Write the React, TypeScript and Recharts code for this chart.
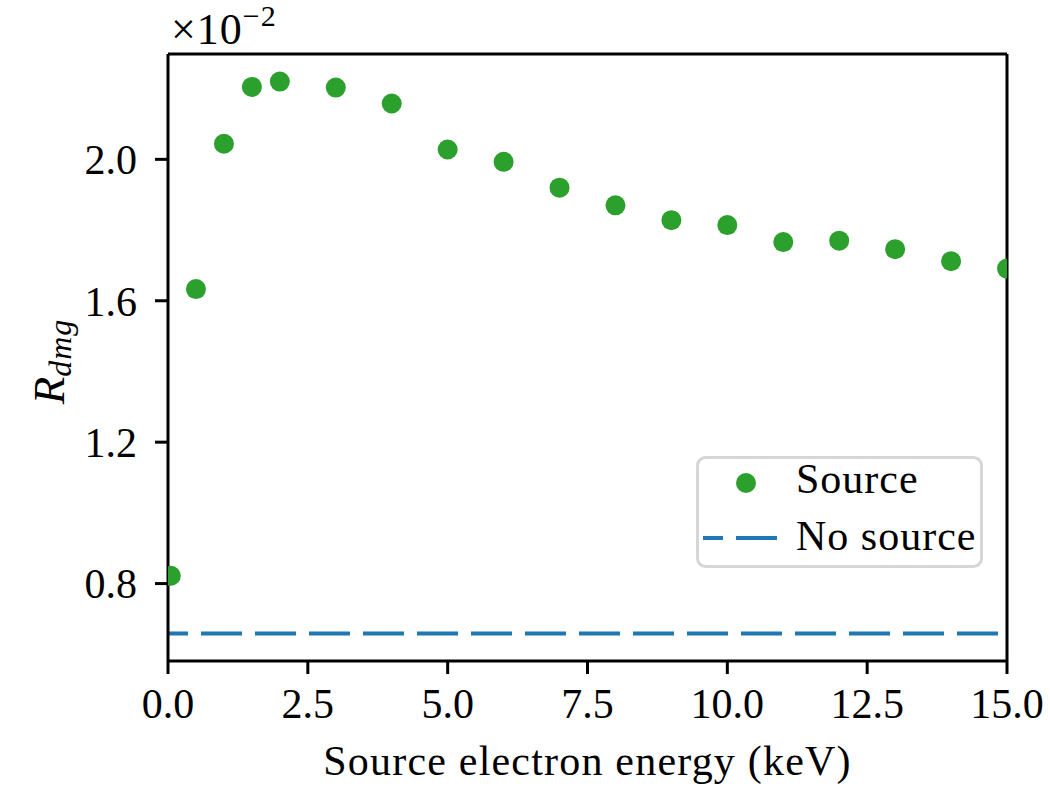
import { ComposedChart, Scatter, Line, XAxis, YAxis, Legend, ReferenceLine } from "recharts";

const energies = [0.05, 0.5, 1, 1.5, 2, 3, 4, 5, 6, 7, 8, 9, 10, 11, 12, 13, 14, 15];
const rdmgSource = [
  0.822, 1.633, 2.044, 2.205, 2.22, 2.203, 2.158, 2.028, 1.993, 1.92, 1.87, 1.828, 1.814,
  1.766, 1.77, 1.746, 1.712, 1.691
];
const noSourceX = [0, 15];
const noSourceY = [0.659, 0.659];
const xTicks = [0, 2.5, 5, 7.5, 10, 12.5, 15];
const yTicks = [0.8, 1.2, 1.6, 2.0];
const xDomain = [0, 15];
const yDomain = [0.581, 2.298];

const FONT = "'Liberation Serif', 'DejaVu Serif', serif";
const GREEN = "#2ca02c";
const BLUE = "#1f77b4";

const sourcePoints = energies.map((x, i) => ({ x, y: rdmgSource[i] }));
const noSourcePoints = noSourceX.map((x, i) => ({ x, y: noSourceY[i] }));

function LegendBox() {
  return (
    <svg width={287} height={112} style={{ display: "block" }}>
      <rect x={1.5} y={1.5} width={284} height={109} rx={8} fill="rgba(255,255,255,0.8)" stroke="#d6d6d6" strokeWidth={3} />
      <circle cx={50} cy={27} r={10} fill={GREEN} />
      <text x={100} y={37} fontFamily={FONT} fontSize={42} letterSpacing={1} fill="#000">Source</text>
      <line x1={7} x2={83} y1={82} y2={82} stroke={BLUE} strokeWidth={4} strokeDasharray="20 13 41 13" />
      <text x={100} y={94} fontFamily={FONT} fontSize={42} letterSpacing={1} fill="#000">No source</text>
    </svg>
  );
}

export default function App() {
  const tickStyle = { fill: "#000", fontSize: 42, fontFamily: FONT };
  const axisStroke = { stroke: "#000", strokeWidth: 3 };
  return (
    <div style={{ position: "relative", width: 1050, height: 787, background: "#fff" }}>
      <style>{"body{margin:0}"}</style>
      <ComposedChart width={1050} height={787} margin={{ top: 54, right: 43, left: 68, bottom: 56 }}>
        <XAxis
          dataKey="x"
          type="number"
          domain={xDomain}
          ticks={xTicks}
          allowDataOverflow
          tickFormatter={(v: number) => v.toFixed(1)}
          tick={tickStyle}
          tickLine={axisStroke}
          axisLine={axisStroke}
          tickSize={13}
          tickMargin={14}
          height={70}
          label={{
            content: (p: any) => (
              <text
                x={p.viewBox.x + p.viewBox.width / 2}
                y={775}
                textAnchor="middle"
                fontFamily={FONT}
                fontSize={42}
                letterSpacing={1.2}
                fill="#000"
              >
                Source electron energy (keV)
              </text>
            )
          }}
        />
        <YAxis
          type="number"
          domain={yDomain}
          ticks={yTicks}
          allowDataOverflow
          tickFormatter={(v: number) => v.toFixed(1)}
          tick={tickStyle}
          tickLine={axisStroke}
          axisLine={axisStroke}
          tickSize={13}
          tickMargin={18}
          width={100}
          label={{
            content: (p: any) => {
              const cy = p.viewBox.y + p.viewBox.height / 2 + 4;
              return (
                <text
                  x={64}
                  y={cy}
                  transform={`rotate(-90, 64, ${cy})`}
                  textAnchor="middle"
                  fontFamily={FONT}
                  fontSize={45}
                  fontStyle="italic"
                  fill="#000"
                >
                  R
                  <tspan fontSize={32} dy={7} letterSpacing={1}>dmg</tspan>
                </text>
              );
            }
          }}
        />
        <ReferenceLine y={yDomain[1]} stroke="#000" strokeWidth={3} />
        <ReferenceLine x={xDomain[1]} stroke="#000" strokeWidth={3} />
        <Line
          data={noSourcePoints}
          dataKey="y"
          type="linear"
          stroke={BLUE}
          strokeWidth={4}
          strokeDasharray="41 13"
          strokeDashoffset={21}
          dot={false}
          activeDot={false}
          isAnimationActive={false}
        />
        <Scatter
          data={sourcePoints}
          dataKey="y"
          isAnimationActive={false}
          shape={(p: any) => <circle cx={p.cx} cy={p.cy} r={10} fill={GREEN} />}
        />
        <Legend
          layout="horizontal"
          verticalAlign="middle"
          align="center"
          wrapperStyle={{ left: 696, top: 456, width: 287, height: 112 }}
          content={() => <LegendBox />}
        />
      </ComposedChart>
      <svg width={140} height={54} style={{ position: "absolute", left: 160, top: 0, overflow: "visible" }}>
        <text x={11} y={44} fontFamily={FONT} fontSize={44} letterSpacing={1} fill="#000">
          ×10
          <tspan fontSize={30} dy={-18}>−2</tspan>
        </text>
      </svg>
    </div>
  );
}
